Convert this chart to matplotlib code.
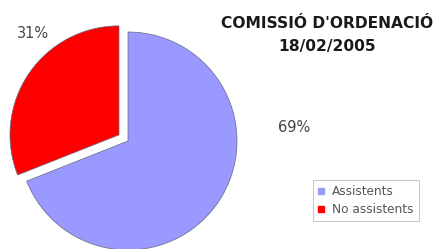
import matplotlib
matplotlib.use("Agg")
import matplotlib.pyplot as plt
from matplotlib.lines import Line2D

categories = ["Assistents", "No assistents"]
values = [69, 31]
colors = ["#9999FF", "#FF0000"]
title_lines = ["COMISSIÓ D'ORDENACIÓ", "18/02/2005"]

W, H = 439, 249
fig = plt.figure(figsize=(W / 100, H / 100), dpi=100)
ax = fig.add_axes([0, 0, 1, 1])

cx, cy, r = 128, 141, 109  # pixel geometry
wedges, _ = ax.pie(values, colors=colors, startangle=90, counterclock=False,
                   explode=[0, 0.1], radius=1,
                   wedgeprops=dict(edgecolor="#666680", linewidth=0.5))
ax.set_xlim(-cx / r, (W - cx) / r)
ax.set_ylim(-(H - cy) / r, cy / r)
ax.set_aspect("auto")
ax.axis("off")

fnt = "DejaVu Sans"
ax.text(33 / W, 1 - 34 / H, f"{values[1]}%", transform=ax.transAxes, fontsize=10.5,
        color="#444444", family=fnt, ha="center", va="center")
ax.text(294 / W, 1 - 127.5 / H, f"{values[0]}%", transform=ax.transAxes, fontsize=10.5,
        color="#444444", family=fnt, ha="center", va="center")

ax.text(327 / W, 1 - 24 / H, title_lines[0], transform=ax.transAxes, fontsize=11.2,
        fontweight="bold", family=fnt, ha="center", va="center", color="#1a1a1a")
ax.text(327 / W, 1 - 47 / H, title_lines[1], transform=ax.transAxes, fontsize=11.2,
        fontweight="bold", family=fnt, ha="center", va="center", color="#1a1a1a")

handles = [Line2D([], [], linestyle="none", marker="s", markersize=4,
                  markerfacecolor=c, markeredgecolor=c) for c in colors]
leg = ax.legend(handles, categories, loc="upper left",
                bbox_to_anchor=(313 / W, 1 - 180 / H),
                prop=dict(family=fnt, size=8.7), frameon=True, fancybox=False,
                edgecolor="#aaaaaa", handlelength=0.6, handleheight=0.7,
                handletextpad=0.6, borderpad=0.4, labelspacing=0.45,
                borderaxespad=0)
for t in leg.get_texts():
    t.set_color("#555555")
leg.get_frame().set_linewidth(0.6)

fig.savefig("out.png", dpi=100)
